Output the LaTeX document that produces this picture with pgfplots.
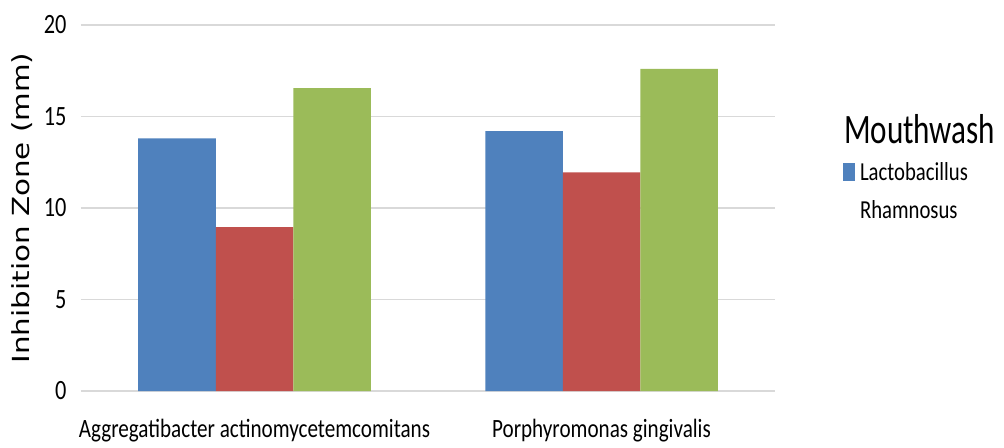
\documentclass[border=0pt]{standalone}
\usepackage{fontspec}
\setmainfont{Carlito}[FakeStretch=0.8]
\newfontfamily\ylabfont{DejaVu Sans}
\usepackage{pgfplots}
\pgfplotsset{compat=1.18}
\definecolor{cblue}{HTML}{4F81BD}
\definecolor{cred}{HTML}{C0504D}
\definecolor{cgreen}{HTML}{9BBB59}
\definecolor{cgrid}{HTML}{D9D9D9}
\begin{document}
\begin{tikzpicture}
\path[use as bounding box] (-81bp,-57bp) rectangle (923bp,391bp);
\begin{axis}[
 at={(0,0)}, anchor=south west,
 scale only axis, width=694bp, height=366bp,
 ybar=0pt, bar width=77.5bp,
 xmin=-0.5, xmax=1.5, ymin=0, ymax=20,
 xtick={0,1},
 xticklabels={Aggregatibacter actinomycetemcomitans, Porphyromonas gingivalis},
 ytick={0,5,10,15,20},
 axis line style={draw=none},
 major tick length=0pt,
 ymajorgrids, grid style={cgrid, line width=1.6bp},
 /pgf/number format/assume math mode=true,
 yticklabel style={font=\fontsize{28}{30}\selectfont, xshift=-11bp},
 xticklabel style={font=\fontsize{26.5}{30}\selectfont, yshift=-25bp},
 ylabel={\scalebox{1}[0.8]{Inhibition Zone (mm)}},
 ylabel style={font=\ylabfont\fontsize{29.5}{30}\selectfont, yshift=4bp},
 legend style={at={(1.092,0.768)}, anchor=north west, draw=none, fill=none,
   font=\fontsize{26}{30}\selectfont, legend cell align=left, row sep=14bp},
]
\addlegendimage{empty legend}
\addlegendentry{\hspace*{-13bp}\fontsize{42}{44}\selectfont\scalebox{0.93}[1]{Mouthwash}}
\addplot[fill=cblue, draw=none, bar shift=-77.5bp,
  legend image code/.code={\fill[cblue] (1bp,-9bp) rectangle (13bp,9bp);}]
  coordinates {(0,13.8) (1,14.2)};
\addlegendentry{\hspace*{3bp}Lactobacillus}
\addlegendimage{empty legend}
\addlegendentry{\hspace*{3bp}Rhamnosus}
\addplot[fill=cred, draw=none, bar shift=0bp, forget plot]
  coordinates {(0,8.95) (1,11.95)};
\addplot[fill=cgreen, draw=none, bar shift=77.5bp, forget plot]
  coordinates {(0,16.55) (1,17.6)};
\end{axis}
\end{tikzpicture}
\end{document}
